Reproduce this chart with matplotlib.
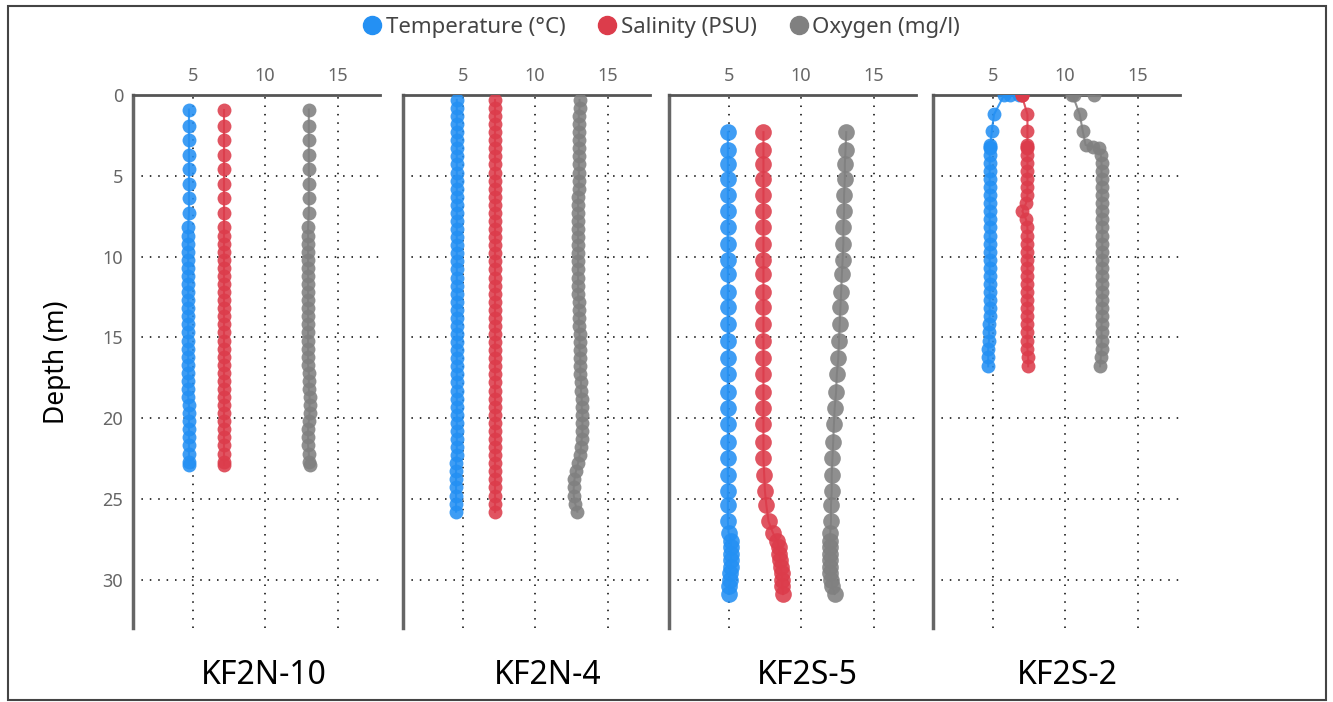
import matplotlib
matplotlib.use("Agg")
import matplotlib.pyplot as plt
from matplotlib.lines import Line2D
from matplotlib.patches import Rectangle

plt.rcParams['font.family'] = ['Noto Sans', 'DejaVu Sans']

# station names
stations = ["KF2N-10", "KF2N-4", "KF2S-5", "KF2S-2"]

# KF2N-10
depth_1 = [0.9, 1.9, 2.8, 3.7, 4.6, 5.5, 6.4, 7.3, 8.2, 8.7, 9.2, 9.7, 10.2, 10.7, 11.2, 11.7,
           12.2, 12.7, 13.2, 13.7, 14.2, 14.7, 15.2, 15.7, 16.2, 16.7, 17.2, 17.7, 18.2, 18.7,
           19.2, 19.7, 20.2, 20.7, 21.2, 21.7, 22.2, 22.7, 22.9]
temp_1 = [4.75, 4.75, 4.75, 4.75, 4.75, 4.75, 4.75, 4.75, 4.7, 4.7, 4.7, 4.7, 4.7, 4.7, 4.7, 4.7,
          4.7, 4.7, 4.7, 4.7, 4.7, 4.7, 4.7, 4.7, 4.7, 4.7, 4.7, 4.7, 4.7, 4.7,
          4.75, 4.75, 4.75, 4.75, 4.75, 4.75, 4.75, 4.75, 4.75]
sal_1 = [7.15, 7.15, 7.15, 7.15, 7.15, 7.15, 7.15, 7.15, 7.15, 7.15, 7.15, 7.15, 7.15, 7.15, 7.15, 7.15,
         7.15, 7.15, 7.15, 7.15, 7.15, 7.15, 7.15, 7.15, 7.15, 7.15, 7.15, 7.15, 7.15, 7.15,
         7.15, 7.15, 7.15, 7.15, 7.15, 7.15, 7.15, 7.15, 7.15]
oxy_1 = [13.0, 13.0, 13.0, 13.0, 13.0, 13.0, 13.0, 13.0, 12.95, 12.95, 12.95, 12.95, 12.95, 12.95, 12.95, 12.95,
         12.95, 12.95, 12.95, 12.95, 12.95, 12.95, 12.95, 12.95, 12.95, 12.95, 13.0, 13.0, 13.0, 13.05,
         13.05, 13.05, 13.0, 12.95, 12.95, 12.95, 13.0, 13.0, 13.05]

# KF2N-4
depth_2 = [0.3, 0.8, 1.3, 1.8, 2.3, 2.8, 3.3, 3.8, 4.3, 4.8, 5.3, 5.8, 6.3, 6.8, 7.3, 7.8, 8.3,
           8.8, 9.3, 9.8, 10.3, 10.8, 11.3, 11.8, 12.3, 12.8, 13.3, 13.8, 14.3, 14.8, 15.3,
           15.8, 16.3, 16.8, 17.3, 17.8, 18.3, 18.8, 19.3, 19.8, 20.3, 20.8, 21.3, 21.8,
           22.3, 22.8, 23.3, 23.8, 24.3, 24.8, 25.3, 25.8]
temp_2 = [4.6, 4.6, 4.6, 4.6, 4.6, 4.6, 4.6, 4.6, 4.6, 4.6, 4.6, 4.6, 4.6, 4.6, 4.6, 4.6, 4.6,
          4.6, 4.6, 4.6, 4.6, 4.6, 4.6, 4.6, 4.6, 4.6, 4.6, 4.6, 4.6, 4.6, 4.6,
          4.6, 4.6, 4.6, 4.6, 4.6, 4.6, 4.6, 4.6, 4.6, 4.6, 4.6, 4.6, 4.6,
          4.6, 4.55, 4.55, 4.55, 4.55, 4.55, 4.55, 4.55]
sal_2 = [7.25, 7.25, 7.25, 7.25, 7.25, 7.25, 7.25, 7.25, 7.25, 7.25, 7.25, 7.25, 7.25, 7.25, 7.25, 7.25, 7.25,
         7.25, 7.25, 7.25, 7.25, 7.25, 7.25, 7.25, 7.25, 7.25, 7.25, 7.25, 7.25, 7.25, 7.25,
         7.25, 7.25, 7.25, 7.25, 7.25, 7.25, 7.25, 7.25, 7.25, 7.25, 7.25, 7.25, 7.25,
         7.25, 7.25, 7.25, 7.25, 7.25, 7.25, 7.25, 7.25]
oxy_2 = [13.05, 13.05, 13.0, 13.0, 13.0, 13.0, 13.0, 13.0, 13.0, 13.0, 13.0, 13.0, 12.95, 12.95, 12.95, 12.95, 12.95,
         12.95, 12.95, 12.95, 12.95, 12.95, 12.95, 12.95, 12.95, 13.0, 13.0, 13.0, 13.0, 13.05, 13.05,
         13.05, 13.1, 13.1, 13.1, 13.15, 13.15, 13.2, 13.2, 13.25, 13.25, 13.25, 13.2, 13.15,
         13.05, 12.95, 12.8, 12.7, 12.65, 12.65, 12.75, 12.9]

# KF2S-5
depth_3 = [2.3, 3.4, 4.3, 5.2, 6.2, 7.2, 8.2, 9.2, 10.2, 11.1, 12.2, 13.1, 14.2, 15.2, 16.3, 17.3,
           18.4, 19.4, 20.4, 21.5, 22.5, 23.5, 24.5, 25.4, 26.4, 27.1, 27.6, 28.0, 28.4, 28.8,
           29.2, 29.6, 30.0, 30.4, 30.9]
temp_3 = [4.95, 4.95, 4.95, 4.95, 4.95, 4.95, 4.95, 4.95, 4.95, 4.95, 4.95, 4.95, 4.95, 4.95, 4.95, 4.95,
          4.95, 4.95, 4.95, 4.95, 4.95, 4.95, 4.95, 4.95, 4.95, 5.0, 5.15, 5.15, 5.15, 5.15,
          5.15, 5.1, 5.1, 5.05, 5.0]
sal_3 = [7.4, 7.4, 7.4, 7.4, 7.4, 7.4, 7.4, 7.4, 7.4, 7.4, 7.4, 7.4, 7.4, 7.4, 7.4, 7.4,
         7.4, 7.4, 7.4, 7.4, 7.4, 7.45, 7.5, 7.6, 7.75, 8.05, 8.35, 8.45, 8.5, 8.55,
         8.6, 8.65, 8.7, 8.7, 8.75]
oxy_3 = [13.1, 13.05, 13.0, 13.0, 12.95, 12.95, 12.9, 12.9, 12.85, 12.8, 12.75, 12.7, 12.65, 12.6, 12.55, 12.45,
         12.4, 12.3, 12.25, 12.2, 12.15, 12.1, 12.1, 12.05, 12.05, 12.0, 11.95, 11.95, 11.95, 11.95,
         12.0, 12.0, 12.05, 12.15, 12.3]

# KF2S-2
depth_4 = [0.0, 0.0, 0.0, 1.2, 2.2, 3.1, 3.2, 3.3, 3.7, 4.2, 4.7, 5.2, 5.7, 6.2, 6.7, 7.2,
           7.7, 8.2, 8.7, 9.2, 9.7, 10.2, 10.7, 11.2, 11.7, 12.2, 12.7, 13.2, 13.7, 14.2,
           14.7, 15.2, 15.7, 16.2, 16.8]
temp_4 = [6.8, 6.2, 5.8, 5.1, 4.95, 4.85, 4.8, 4.8, 4.8, 4.8, 4.8, 4.8, 4.8, 4.8, 4.8, 4.8,
          4.8, 4.8, 4.8, 4.8, 4.8, 4.8, 4.8, 4.8, 4.8, 4.8, 4.8, 4.8, 4.8, 4.75,
          4.75, 4.75, 4.7, 4.7, 4.7]
sal_4 = [7.0, 7.0, 7.0, 7.4, 7.4, 7.4, 7.4, 7.4, 7.4, 7.4, 7.4, 7.4, 7.4, 7.4, 7.3, 7.05,
         7.3, 7.4, 7.4, 7.4, 7.4, 7.4, 7.4, 7.4, 7.4, 7.4, 7.4, 7.4, 7.4, 7.4,
         7.4, 7.4, 7.4, 7.45, 7.45]
oxy_4 = [12.0, 10.6, 10.5, 11.0, 11.2, 11.4, 11.9, 12.3, 12.45, 12.5, 12.5, 12.5, 12.5, 12.5, 12.5, 12.5,
         12.5, 12.55, 12.55, 12.55, 12.55, 12.55, 12.55, 12.55, 12.55, 12.55, 12.55, 12.55, 12.55, 12.5,
         12.5, 12.5, 12.5, 12.45, 12.4]

depths = [depth_1, depth_2, depth_3, depth_4]
temps = [temp_1, temp_2, temp_3, temp_4]
sals = [sal_1, sal_2, sal_3, sal_4]
oxys = [oxy_1, oxy_2, oxy_3, oxy_4]

blue = "#2490f3"
red = "#dc3c4b"
gray = "#808080"

W, H = 1333, 702
fig = plt.figure(figsize=(W / 100, H / 100), dpi=100)

# outer frame
fig.patches.append(Rectangle((8 / W, 2 / H), 1318 / W, 694 / H, transform=fig.transFigure,
                             fill=False, edgecolor="#444444", linewidth=1.5))

lefts = [133, 403, 669, 933]
sizes = [10, 10, 12, 10]
label_x = [264, 548, 807, 1067]

for i in range(4):
    ax = fig.add_axes([lefts[i] / W, 1 - 628 / H, 247 / W, (628 - 95) / H])
    for vals, c in [(temps[i], blue), (sals[i], red), (oxys[i], gray)]:
        ax.plot(vals, depths[i], color=c, lw=1.5, marker="o", ms=sizes[i],
                markeredgewidth=0, alpha=0.88, zorder=3)
    ax.set_xlim(0.9, 17.9)
    ax.set_ylim(33, 0)
    ax.set_xticks([5, 10, 15])
    ax.set_yticks([0, 5, 10, 15, 20, 25, 30])
    ax.xaxis.tick_top()
    ax.tick_params(length=0, labelcolor="#666666", labelsize=13, pad=7)
    if i > 0:
        ax.set_yticklabels([])
    ax.grid(True, color="black", linestyle=(0, (1, 4.5)), linewidth=1.1)
    ax.spines["right"].set_visible(False)
    ax.spines["bottom"].set_visible(False)
    ax.spines["left"].set_color("#666666")
    ax.spines["left"].set_linewidth(2.5)
    ax.spines["top"].set_color("#555555")
    ax.spines["top"].set_linewidth(2)
    fig.text(label_x[i] / W, 1 - 675 / H, stations[i], ha="center", va="center", fontsize=23)

fig.text(57 / W, 1 - 362 / H, "Depth (m)", rotation=90, ha="center", va="center", fontsize=19)

handles = [Line2D([], [], color=blue, marker="o", ls="", ms=13),
           Line2D([], [], color=red, marker="o", ls="", ms=13),
           Line2D([], [], color=gray, marker="o", ls="", ms=13)]
fig.legend(handles, ["Temperature (°C)", "Salinity (PSU)", "Oxygen (mg/l)"],
           loc="center", bbox_to_anchor=(655 / W, 1 - 27 / H), ncol=3, frameon=False,
           fontsize=16, handletextpad=-0.4, columnspacing=0.9, labelcolor="#444444")

plt.savefig("out.png")
